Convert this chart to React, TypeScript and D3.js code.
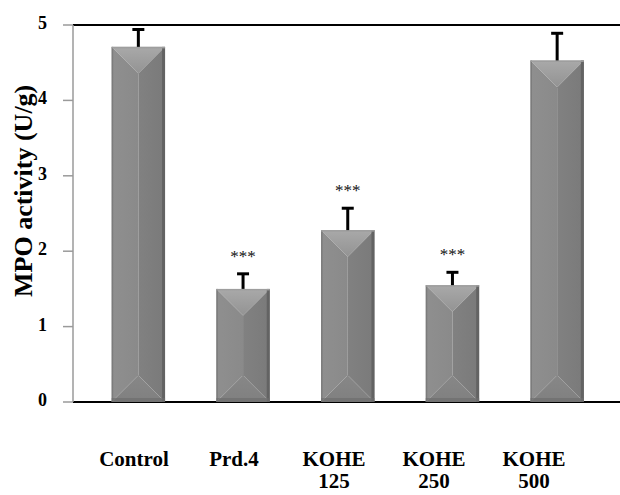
import React from 'react';
import * as d3 from 'd3';

const categories = ['Control', 'Prd.4', 'KOHE 125', 'KOHE 250', 'KOHE 500'];
const labelLines = [['Control'], ['Prd.4'], ['KOHE', '125'], ['KOHE', '250'], ['KOHE', '500']];
const values = [4.71, 1.5, 2.28, 1.55, 4.53];
const errors = [0.23, 0.2, 0.29, 0.17, 0.36];
const marks = ['', '***', '***', '***', ''];
const yTicks = [0, 1, 2, 3, 4, 5];

const W = 620;
const H = 495;
const axisX = 73;
const serif = '"Liberation Serif", "Times New Roman", serif';

const App = () => {
  const y = d3.scaleLinear().domain([0, 5]).range([402, 25]);
  const x = d3.scaleBand().domain(categories).range([86, 609.5]).paddingInner(0.49).paddingOuter(0.245);
  const labelX = d3.scalePoint().domain(categories).range([134, 534]);
  const bw = x.bandwidth();

  return (
    <svg width={W} height={H} style={{ position: 'absolute', left: 0, top: 0, background: '#fff' }}>
      <defs>
        <linearGradient id="bevel-top" x1="0" y1="0" x2="0" y2="1">
          <stop offset="0%" stopColor="#a9a9a9" />
          <stop offset="100%" stopColor="#939393" />
        </linearGradient>
        <linearGradient id="bevel-left" x1="0" y1="0" x2="1" y2="0">
          <stop offset="0%" stopColor="#8f8f8f" />
          <stop offset="100%" stopColor="#8a8a8a" />
        </linearGradient>
        <linearGradient id="bevel-right" x1="0" y1="0" x2="1" y2="0">
          <stop offset="0%" stopColor="#818181" />
          <stop offset="100%" stopColor="#7a7a7a" />
        </linearGradient>
        <linearGradient id="bevel-bottom" x1="0" y1="0" x2="0" y2="1">
          <stop offset="0%" stopColor="#878787" />
          <stop offset="100%" stopColor="#808080" />
        </linearGradient>
      </defs>

      {/* frame lines */}
      <line x1={axisX} x2={W} y1={y(5)} y2={y(5)} stroke="#000" strokeWidth={2} />
      <line x1={axisX} x2={W} y1={y(0)} y2={y(0)} stroke="#000" strokeWidth={2} />
      <line x1={axisX} x2={axisX} y1={y(5)} y2={y(0)} stroke="#9a9a9a" strokeWidth={1.5} />

      {yTicks.map((t) => (
        <g key={t}>
          <line x1={axisX - 10} x2={axisX} y1={y(t)} y2={y(t)} stroke="#9a9a9a" strokeWidth={1.5} />
          <text
            x={47}
            y={y(t) - 2}
            textAnchor="end"
            dominantBaseline="central"
            fontFamily={serif}
            fontWeight="bold"
            fontSize={18}
          >
            {t}
          </text>
        </g>
      ))}

      <text
        transform={`translate(32, ${y(2.8)}) rotate(-90)`}
        textAnchor="middle"
        fontFamily={serif}
        fontWeight="bold"
        fontSize={26}
      >
        MPO activity (U/g)
      </text>

      {categories.map((c, i) => {
        const x0 = x(c) as number;
        const x1 = x0 + bw;
        const cx = x0 + bw / 2;
        const top = y(values[i]);
        const bot = y(0);
        const d = bw / 2;
        const capY = y(values[i] + errors[i]);
        return (
          <g key={c}>
            <polygon points={`${x0},${top} ${x1},${top} ${cx},${top + d}`} fill="url(#bevel-top)" />
            <polygon points={`${x0},${top} ${cx},${top + d} ${cx},${bot - d} ${x0},${bot}`} fill="url(#bevel-left)" />
            <polygon points={`${x1},${top} ${cx},${top + d} ${cx},${bot - d} ${x1},${bot}`} fill="url(#bevel-right)" />
            <polygon points={`${x0},${bot} ${cx},${bot - d} ${x1},${bot}`} fill="url(#bevel-bottom)" />
            <rect x={x1 - 3} y={top} width={3} height={bot - top} fill="#5f5f5f" opacity={0.85} />
            <rect x={x0} y={top} width={1.5} height={bot - top} fill="#777" opacity={0.8} />
            <rect x={x0} y={top} width={bw} height={1.5} fill="#9e9e9e" />
            <rect x={x0} y={bot - 4} width={bw} height={4} fill="#6e6e6e" opacity={0.7} />

            <line x1={cx} x2={cx} y1={top} y2={capY} stroke="#000" strokeWidth={3} />
            <line x1={cx - 6} x2={cx + 6} y1={capY} y2={capY} stroke="#000" strokeWidth={3} />

            {marks[i] && (
              <text
                x={cx}
                y={capY - 12}
                textAnchor="middle"
                fontFamily={serif}
                fontSize={17}
                fill="#111"
              >
                {marks[i]}
              </text>
            )}

            {labelLines[i].map((line, k) => (
              <text
                key={line}
                x={labelX(c)}
                y={466 + k * 22}
                textAnchor="middle"
                fontFamily={serif}
                fontWeight="bold"
                fontSize={21}
              >
                {line}
              </text>
            ))}
          </g>
        );
      })}
    </svg>
  );
};

export default App;
